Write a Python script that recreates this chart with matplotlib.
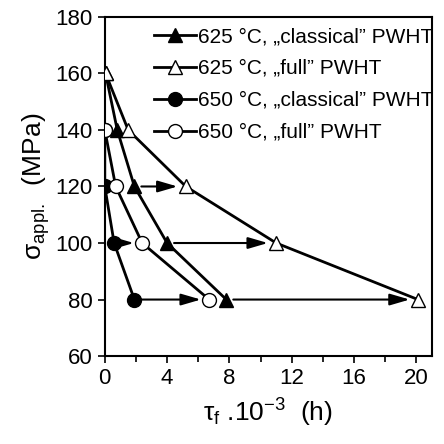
import matplotlib
matplotlib.use("Agg")
import matplotlib.pyplot as plt
from matplotlib.ticker import MultipleLocator

plt.rcParams['font.family'] = ['Liberation Sans', 'DejaVu Sans']
plt.rcParams['mathtext.fontset'] = 'custom'
plt.rcParams['mathtext.rm'] = 'Liberation Sans'
plt.rcParams['mathtext.it'] = 'Liberation Sans:italic'

# Datos
s_625_clas = [160, 140, 120, 100, 80]
t_625_clas = [0.05, 0.8, 1.9, 4.0, 7.8]
s_625_full = [160, 140, 120, 100, 80]
t_625_full = [0.05, 1.5, 5.2, 11.0, 20.1]
s_650_clas = [140, 120, 100, 80]
t_650_clas = [0.0, 0.0, 0.6, 1.9]
s_650_full = [140, 120, 100, 80]
t_650_full = [0.0, 0.7, 2.4, 6.7]

# Flechas: de "classical" a "full" (inicio, fin, tension)
flechas = [
    (1.9, 5.2, 120),
    (4.0, 11.0, 100),
    (0.6, 2.4, 100),
    (1.9, 6.7, 80),
    (7.8, 20.1, 80),
]

fig = plt.figure(figsize=(4.44, 4.44), dpi=100)
ax = fig.add_axes([0.236, 0.198, 0.737, 0.764])

for x0, x1, y in flechas:
    ax.annotate("", xy=(x1, y), xytext=(x0, y),
                arrowprops=dict(arrowstyle="-|>,head_length=1.2,head_width=0.35",
                                color="black", lw=1.5, shrinkA=5, shrinkB=6))

ax.plot(t_625_clas, s_625_clas, "-", color="black", lw=2, marker="^", ms=10,
        mfc="black", mec="black", label="625 °C, „classical” PWHT", zorder=3)
ax.plot(t_625_full, s_625_full, "-", color="black", lw=2, marker="^", ms=10,
        mfc="white", mec="black", mew=1, label="625 °C, „full” PWHT", zorder=4)
ax.plot(t_650_clas, s_650_clas, "-", color="black", lw=2, marker="o", ms=10,
        mfc="black", mec="black", label="650 °C, „classical” PWHT", zorder=5)
ax.plot(t_650_full, s_650_full, "-", color="black", lw=2, marker="o", ms=10,
        mfc="white", mec="black", mew=1, label="650 °C, „full” PWHT", zorder=6)

ax.set_xlim(0, 21)
ax.set_ylim(60, 180)
ax.xaxis.set_major_locator(MultipleLocator(4))
ax.xaxis.set_minor_locator(MultipleLocator(2))
ax.yaxis.set_major_locator(MultipleLocator(20))
ax.tick_params(axis="both", which="both", direction="out", labelsize=16,
               width=1.2, top=False, right=False)
ax.tick_params(which="major", length=5)
ax.tick_params(which="minor", length=4)
for sp in ax.spines.values():
    sp.set_linewidth(1.5)

ax.set_xlabel(r"τ$_\mathrm{f}$ .10$^{\mathrm{-3}}$  (h)", fontsize=19, labelpad=6)
ax.set_ylabel(r"σ$_\mathrm{appl.}$  (MPa)", fontsize=19, labelpad=3)

ax.legend(loc="upper right", bbox_to_anchor=(1.005, 0.97), frameon=False,
          fontsize=15, handlelength=2.0, handletextpad=0.1, labelspacing=0.62,
          borderaxespad=0.0, borderpad=0.0)

fig.savefig("out.png", dpi=100)
